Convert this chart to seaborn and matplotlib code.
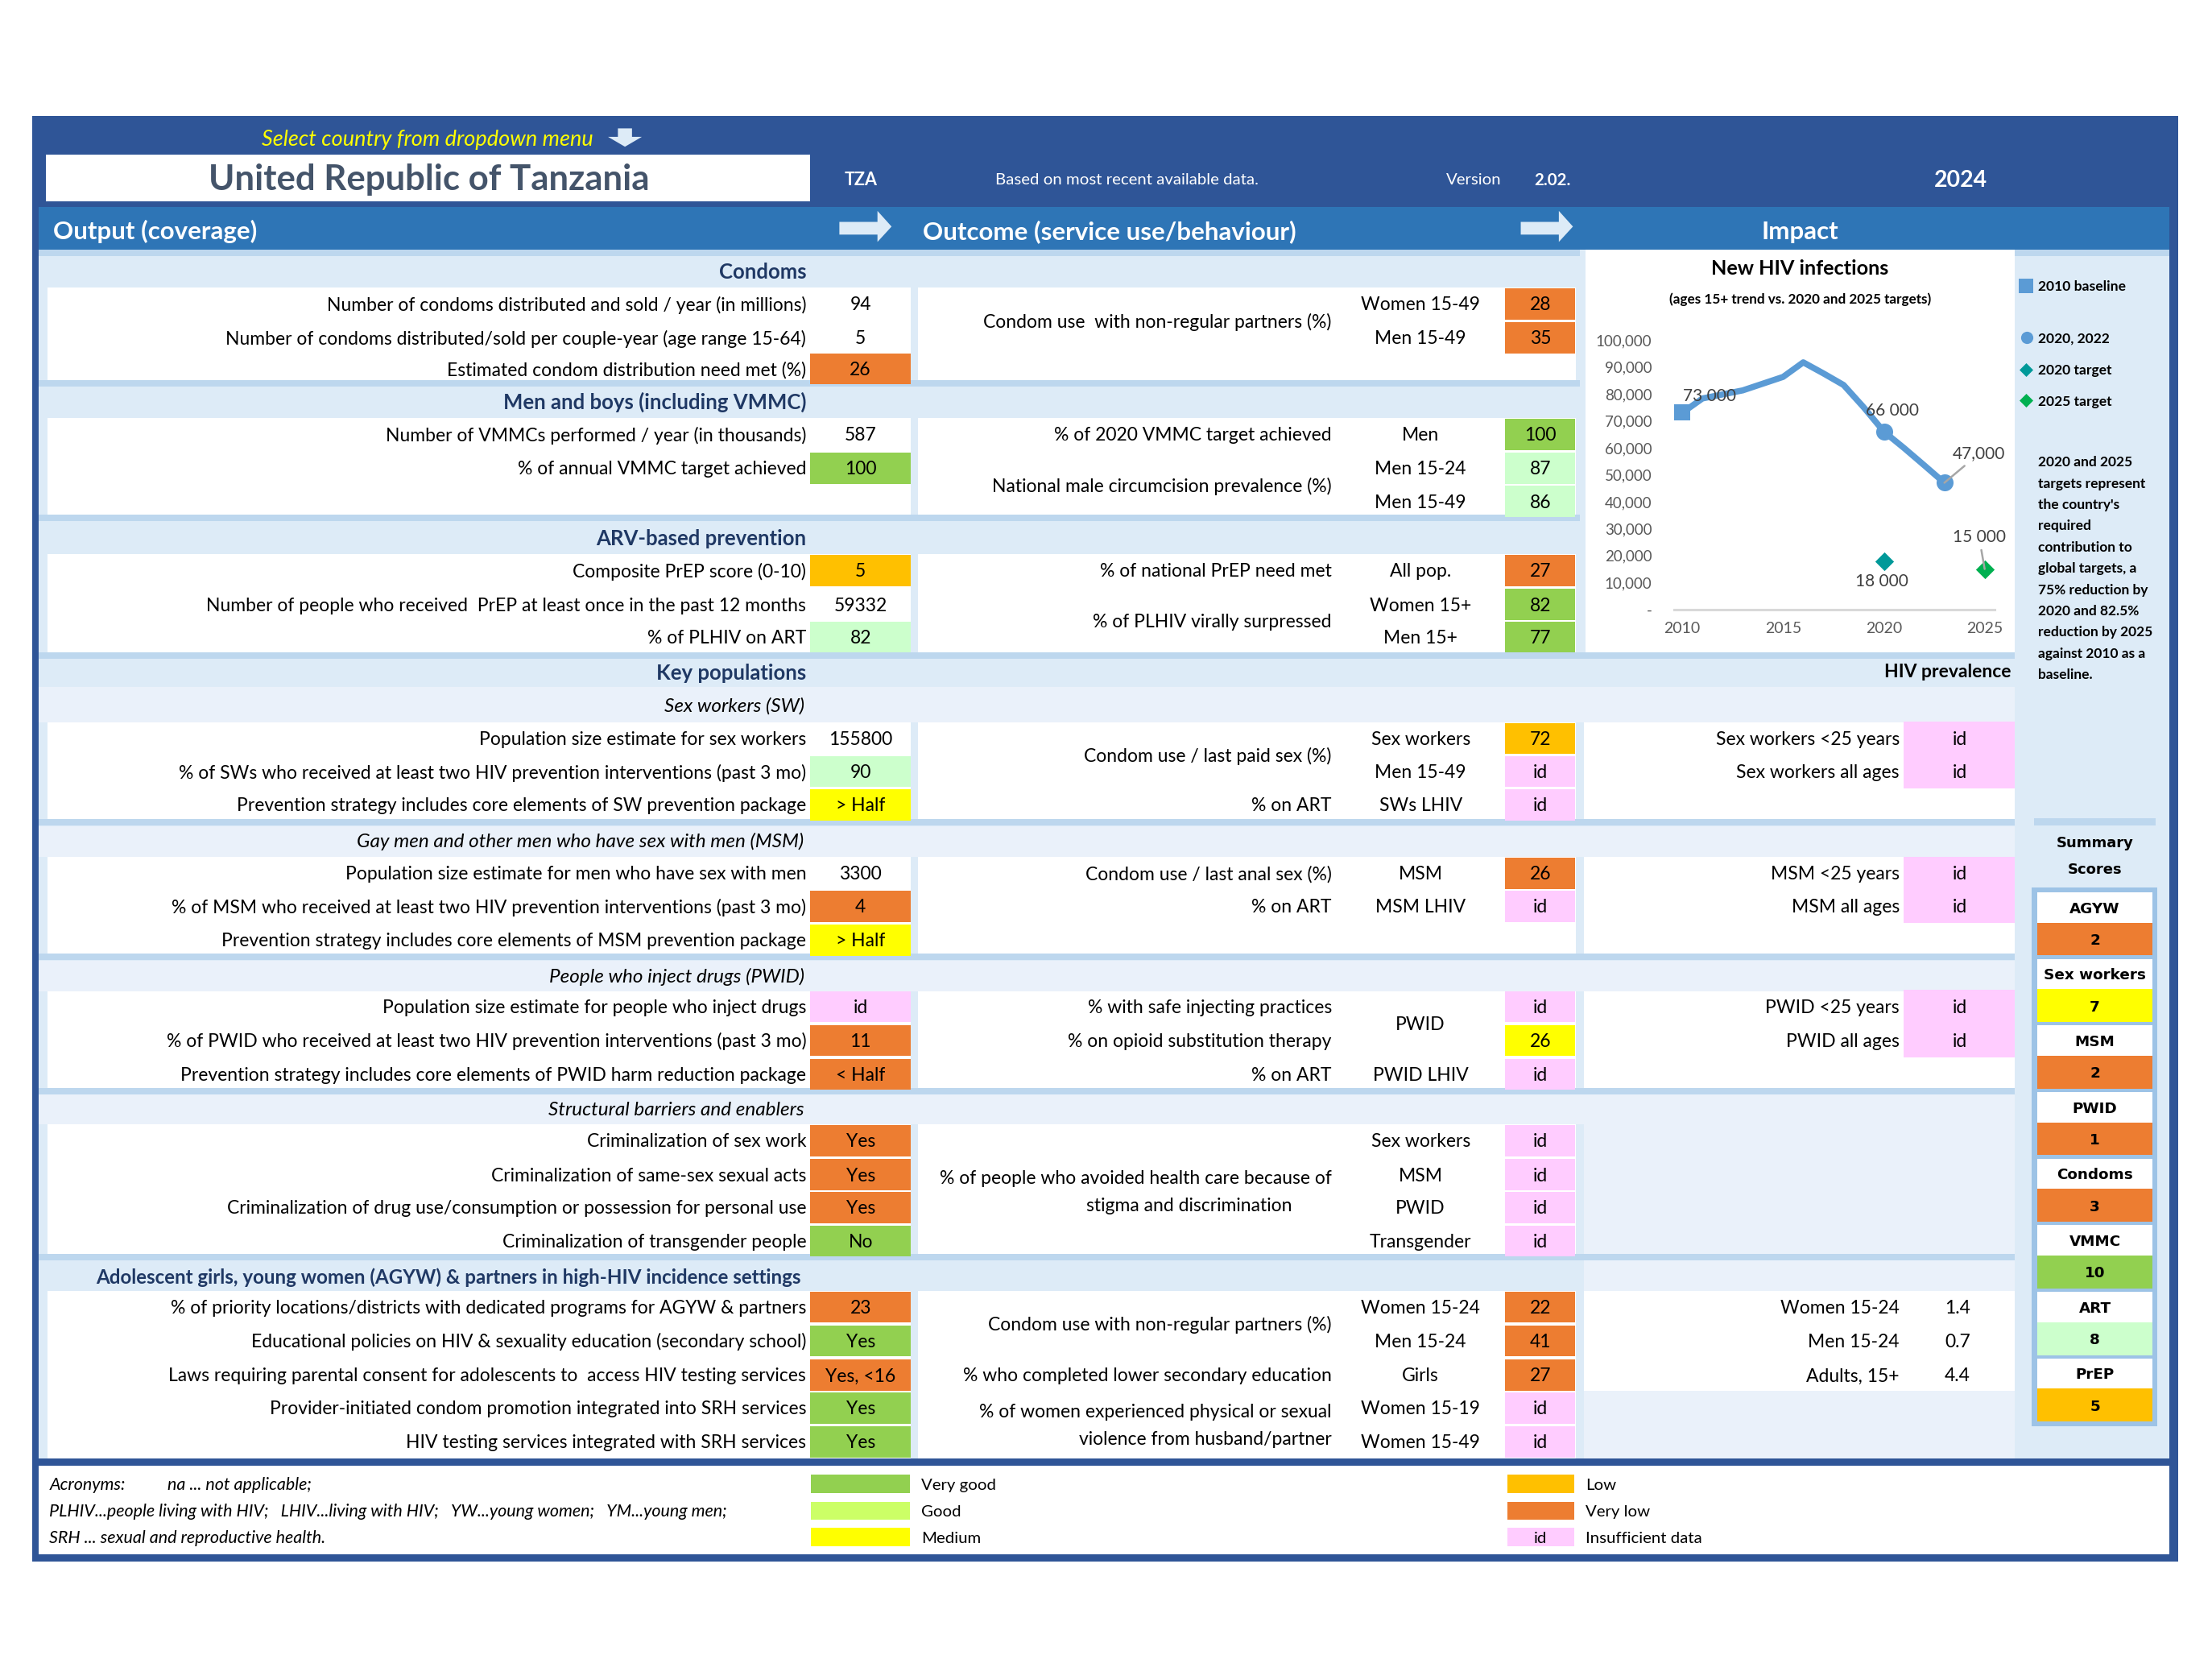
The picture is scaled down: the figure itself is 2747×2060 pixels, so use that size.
#!/usr/bin/env python3
"""
HIV prevention scorecard - United Republic of Tanzania.
One page layout (output / outcome / impact) drawn with matplotlib,
the new infections trend panel drawn with seaborn.
"""

import matplotlib
matplotlib.use("Agg")
import matplotlib.pyplot as plt
from matplotlib.patches import Rectangle, Polygon
import seaborn as sns
import pandas as pd

# ---------------------------------------------------------------- data
country = "United Republic of Tanzania"
iso_code = "TZA"
data_note = "Based on most recent available data."
version = "2.02."
report_year = "2024"

section_titles = ["Condoms", "Men and boys (including VMMC)", "ARV-based prevention",
                  "Key populations",
                  "Adolescent girls, young women (AGYW) & partners in high-HIV incidence settings"]
subsection_titles = ["Sex workers (SW)", "Gay men and other men who have sex with men (MSM)",
                     "People who inject drugs (PWID)", "Structural barriers and enablers"]

output_labels = [
    "Number of condoms distributed and sold / year (in millions)",
    "Number of condoms distributed/sold per couple-year (age range 15-64)",
    "Estimated condom distribution need met (%)",
    "Number of VMMCs performed / year (in thousands)",
    "% of annual VMMC target achieved",
    "",
    "Composite PrEP score (0-10)",
    "Number of people who received  PrEP at least once in the past 12 months",
    "% of PLHIV on ART",
    "Population size estimate for sex workers",
    "% of SWs who received at least two HIV prevention interventions (past 3 mo)",
    "Prevention strategy includes core elements of SW prevention package",
    "Population size estimate for men who have sex with men",
    "% of MSM who received at least two HIV prevention interventions (past 3 mo)",
    "Prevention strategy includes core elements of MSM prevention package",
    "Population size estimate for people who inject drugs",
    "% of PWID who received at least two HIV prevention interventions (past 3 mo)",
    "Prevention strategy includes core elements of PWID harm reduction package",
    "Criminalization of sex work",
    "Criminalization of same-sex sexual acts",
    "Criminalization of drug use/consumption or possession for personal use",
    "Criminalization of transgender people",
    "% of priority locations/districts with dedicated programs for AGYW & partners",
    "Educational policies on HIV & sexuality education (secondary school)",
    "Laws requiring parental consent for adolescents to  access HIV testing services",
    "Provider-initiated condom promotion integrated into SRH services",
    "HIV testing services integrated with SRH services",
]
output_values = ["94", "5", "26", "587", "100", "", "5", "59332", "82",
                 "155800", "90", "> Half", "3300", "4", "> Half", "id", "11", "< Half",
                 "Yes", "Yes", "Yes", "No", "23", "Yes", "Yes, <16", "Yes", "Yes"]
output_ratings = ["", "", "vl", "", "vg", "", "l", "", "g",
                  "", "g", "m", "", "vl", "m", "id", "vl", "vl",
                  "vl", "vl", "vl", "vg", "vl", "vg", "vl", "vg", "vg"]

# (text, first row, last row)
outcome_questions = [
    ("Condom use  with non-regular partners (%)", 0, 1),
    ("% of 2020 VMMC target achieved", 3, 3),
    ("National male circumcision prevalence (%)", 4, 5),
    ("% of national PrEP need met", 6, 6),
    ("% of PLHIV virally surpressed", 7, 8),
    ("Condom use / last paid sex (%)", 9, 10),
    ("% on ART", 11, 11),
    ("Condom use / last anal sex (%)", 12, 12),
    ("% on ART", 13, 13),
    ("% with safe injecting practices", 15, 15),
    ("% on opioid substitution therapy", 16, 16),
    ("% on ART", 17, 17),
    ("% of people who avoided health care because of\nstigma and discrimination", 19, 20),
    ("Condom use with non-regular partners (%)", 22, 23),
    ("% who completed lower secondary education", 24, 24),
    ("% of women experienced physical or sexual\nviolence from husband/partner", 25, 26),
]
outcome_groups = [
    ("Women 15-49", 0, 0), ("Men 15-49", 1, 1), ("Men", 3, 3), ("Men 15-24", 4, 4),
    ("Men 15-49", 5, 5), ("All pop.", 6, 6), ("Women 15+", 7, 7), ("Men 15+", 8, 8),
    ("Sex workers", 9, 9), ("Men 15-49", 10, 10), ("SWs LHIV", 11, 11), ("MSM", 12, 12),
    ("MSM LHIV", 13, 13), ("PWID", 15, 16), ("PWID LHIV", 17, 17), ("Sex workers", 18, 18),
    ("MSM", 19, 19), ("PWID", 20, 20), ("Transgender", 21, 21), ("Women 15-24", 22, 22),
    ("Men 15-24", 23, 23), ("Girls", 24, 24), ("Women 15-19", 25, 25), ("Women 15-49", 26, 26),
]
outcome_values = ["28", "35", "", "100", "87", "86", "27", "82", "77",
                  "72", "id", "id", "26", "id", "", "id", "26", "id",
                  "id", "id", "id", "id", "22", "41", "27", "id", "id"]
outcome_ratings = ["vl", "vl", "", "vg", "g", "g", "vl", "vg", "vg",
                   "l", "id", "id", "vl", "id", "", "id", "m", "id",
                   "id", "id", "id", "id", "vl", "vl", "vl", "id", "id"]

prevalence_labels = ["Sex workers <25 years", "Sex workers all ages", "MSM <25 years",
                     "MSM all ages", "PWID <25 years", "PWID all ages"]
prevalence_rows = [9, 10, 12, 13, 15, 16]
prevalence_values = ["id", "id", "id", "id", "id", "id"]

agyw_prev_labels = ["Women 15-24", "Men 15-24", "Adults, 15+"]
agyw_prev_rows = [22, 23, 24]
agyw_prev_values = ["1.4", "0.7", "4.4"]

# new HIV infections, ages 15+
trend_years = [2010, 2011, 2012, 2013, 2014, 2015, 2016, 2017, 2018, 2019, 2020, 2021, 2022, 2023]
trend_infections = [73000, 78300, 79800, 81300, 83800, 86300, 91700, 87600, 83300, 75000,
                    66000, 59900, 53500, 47000]
baseline_years = [2010]
baseline_values = [73000]
recent_years = [2020, 2023]
recent_values = [66000, 47000]
target20_years = [2020]
target20_values = [18000]
target25_years = [2025]
target25_values = [15000]
point_labels = ["73 000", "66 000", "47,000", "18 000", "15 000"]

chart_legend = ["2010 baseline", "2020, 2022", "2020 target", "2025 target"]
chart_note = ["2020 and 2025", "targets represent", "the country's", "required",
              "contribution to", "global targets, a", "75% reduction by", "2020 and 82.5%",
              "reduction by 2025", "against 2010 as a", "baseline."]

summary_names = ["AGYW", "Sex workers", "MSM", "PWID", "Condoms", "VMMC", "ART", "PrEP"]
summary_scores = ["2", "7", "2", "1", "3", "10", "8", "5"]
summary_ratings = ["vl", "m", "vl", "vl", "vl", "vg", "g", "l"]

key_names = ["Very good", "Good", "Medium", "Low", "Very low", "Insufficient data"]
key_colors = ["#92D050", "#CCFF66", "#FFFF00", "#FFC000", "#ED7D31", "#FFCCFF"]
acronym_lines = ["PLHIV...people living with HIV;   LHIV...living with HIV;   YW...young women;   YM...young men;",
                 "SRH ... sexual and reproductive health."]

# ---------------------------------------------------------------- style
DARK = "#2F5597"
BAND = "#2E75B6"
BG = "#DDEBF7"
LIGHT = "#EAF1FA"
SEP = "#BDD7EE"
NAVY = "#1F3864"
LINE = "#5B9BD5"
RATING_COLORS = {"vg": "#92D050", "g": "#CCFFCC", "m": "#FFFF00", "l": "#FFC000",
                 "vl": "#ED7D31", "id": "#FFCCFF"}

BODY = 16.5
W, H = 1568, 1176   # working units (reference pixels)

# layout (working units)
ROW_Y = [215.5, 239.5, 261.5, 308, 332, 355.5, 404.5, 428.5, 451.5,
         523.5, 547, 570.5, 619, 642.5, 666.5, 713.5, 737.5, 761.5,
         808.5, 832.7, 856, 879.7, 926.5, 950.5, 974.8, 998.2, 1022]
CELL_H = 22
SEPS = [177, 269.5, 365, 462.3, 580.5, 676, 771, 888.7]
SUB_BANDS = [(487, 512), (585.6, 607.5), (681, 702.8), (775.5, 797)]
WHITES = [(203.7, 269.5), (296, 365), (392.7, 462.3), (512, 580.5), (607.5, 676),
          (702.8, 771), (797, 888.7), (915, 1034)]
SECTION_Y = [192.4, 284.5, 381, 476.5, 904.5]
SECTION_SIZE = [18.5, 18.5, 18.5, 18.5, 17.4]
SECTION_RIGHT = [571.5, 571.5, 571.5, 571.5, 568]
SUB_Y = [499.5, 596, 691.5, 786]
DY = 0.8   # small downward nudge of text centres


def rect(ax, x0, y0, x1, y1, color, z=1):
    ax.add_patch(Rectangle((x0, y0), x1 - x0, y1 - y0, facecolor=color,
                           edgecolor="none", lw=0, zorder=z))


def txt(ax, x, y, s, size=BODY, ha="left", color="black", weight="normal",
        style="normal", family=None, z=6):
    kw = {}
    if family:
        kw["family"] = family
    ax.text(x, y + DY, s, fontsize=size, ha=ha, va="center", color=color,
            fontweight=weight, fontstyle=style, zorder=z, **kw)


def mid(a, b):
    return (ROW_Y[a] + ROW_Y[b]) / 2


def draw_frame(ax):
    """Cadre bleu, bandeau et fond."""
    rect(ax, 23, 82, 1544, 1107, DARK, 0)
    rect(ax, 27.5, 146.6, 1538, 177, BAND)
    rect(ax, 27.5, 177, 1538, 1034, BG)
    rect(ax, 27.5, 1039, 1538, 1102, "white")

    # header
    rect(ax, 32.6, 109.6, 574.4, 143, "white", 2)
    txt(ax, 304, 126.5, country, size=31.5, ha="center", color="#44546A", weight="bold")
    txt(ax, 303, 98, "Select country from dropdown menu", size=19.5, ha="center",
        color="#FFFF00", style="italic")
    ax.add_patch(Polygon([(438, 91), (448, 91), (448, 97), (455, 97), (443, 104),
                          (431, 97), (438, 97)], closed=True, facecolor=BG,
                         edgecolor="none", zorder=3))
    txt(ax, 610, 127, iso_code, size=15.5, ha="center", color="white", weight="bold")
    txt(ax, 799, 127, data_note, size=14.7, ha="center", color="white")
    txt(ax, 1045, 127, "Version", size=14.7, ha="center", color="white")
    txt(ax, 1100.5, 127, version, size=14.7, ha="center", color="white", weight="bold")
    txt(ax, 1390, 127, report_year, size=20.5, ha="center", color="white", weight="bold")

    txt(ax, 37.6, 163.5, "Output (coverage)", size=22.5, color="white", weight="bold")
    txt(ax, 654, 163.5, "Outcome (service use/behaviour)", size=22.5, color="white", weight="bold")
    txt(ax, 1276, 163.5, "Impact", size=22.5, ha="center", color="white", weight="bold")
    for x0 in (595, 1078):
        ax.add_patch(Polygon([(x0, 157.3), (x0 + 27, 157.3), (x0 + 27, 149.5),
                              (x0 + 37, 160.6), (x0 + 27, 171.5), (x0 + 27, 166.3),
                              (x0, 166.3)], closed=True, facecolor=BG,
                             edgecolor="none", zorder=3))


def draw_grid(ax):
    """Bandes, séparateurs et blocs blancs."""
    for y0, y1 in SUB_BANDS:
        rect(ax, 27.5, y0, 1428, y1, LIGHT)
    rect(ax, 1123, 771, 1428, 915, LIGHT)
    rect(ax, 1123, 986, 1428, 1034, LIGHT)
    rect(ax, 1428, 177, 1538, 181.5, SEP, 2)
    for i, y in enumerate(SEPS):
        x1 = 1120 if i < 3 else 1428
        rect(ax, 27.5, y, x1, y + 4.6, SEP, 2)
    for i, (y0, y1) in enumerate(WHITES):
        rect(ax, 33.4, y0, 645.5, y1, "white", 3)
        rect(ax, 650.7, y0, 1117, y1, "white", 3)
        if i in (3, 4, 5):
            rect(ax, 1123, y0, 1428, y1, "white", 3)
    rect(ax, 1123, 915, 1428, 986, "white", 3)
    rect(ax, 1124, 177, 1428, 462.3, "white", 3)

    for t, y, sz, xr in zip(section_titles, SECTION_Y, SECTION_SIZE, SECTION_RIGHT):
        txt(ax, xr, y, t, size=sz, ha="right", color=NAVY, weight="bold")
    for t, y in zip(subsection_titles, SUB_Y):
        txt(ax, 570, y, t, size=17.5, ha="right", style="italic")
    txt(ax, 1425.5, 475.5, "HIV prevalence", size=16.5, ha="right", weight="bold")


def draw_rows(ax):
    """Indicateurs output / outcome / impact."""
    for y, lab, val, r in zip(ROW_Y, output_labels, output_values, output_ratings):
        if r:
            rect(ax, 574.5, y - CELL_H / 2, 645.5, y + CELL_H / 2, RATING_COLORS[r], 4)
        txt(ax, 571.5, y, lab, ha="right")
        txt(ax, 610, y, val, ha="center")

    for y, val, r in zip(ROW_Y, outcome_values, outcome_ratings):
        if r:
            rect(ax, 1067, y - CELL_H / 2, 1116.5, y + CELL_H / 2, RATING_COLORS[r], 4)
        txt(ax, 1092, y, val, ha="center")
    for text, a, b in outcome_questions:
        lines = text.split("\n")
        yc = mid(a, b)
        for k, line in enumerate(lines):
            dy = (k - (len(lines) - 1) / 2) * 19.5
            xr = 916 if line.startswith("stigma") else 944
            txt(ax, xr, yc + dy, line, ha="right")
    for text, a, b in outcome_groups:
        txt(ax, 1007, mid(a, b), text, ha="center")

    for lab, row, val in zip(prevalence_labels, prevalence_rows, prevalence_values):
        y = ROW_Y[row]
        rect(ax, 1349.5, y - 11.8, 1428, y + 11.8, RATING_COLORS["id"], 4)
        txt(ax, 1346.5, y, lab, ha="right")
        txt(ax, 1389, y, val, ha="center")
    for lab, row, val in zip(agyw_prev_labels, agyw_prev_rows, agyw_prev_values):
        y = ROW_Y[row]
        txt(ax, 1346.5, y, lab, ha="right")
        txt(ax, 1387.5, y, val, ha="center")


def draw_chart(fig, ax):
    """Courbe des nouvelles infections (seaborn)."""
    txt(ax, 1276, 189.6, "New HIV infections", size=18.2, ha="center", weight="bold")
    txt(ax, 1276, 211.2, "(ages 15+ trend vs. 2020 and 2025 targets)", size=12.3,
        ha="center", weight="bold")

    x0, x1, ytop, ybot = 1186.8, 1414, 241, 432
    ch = fig.add_axes([x0 / W, 1 - ybot / H, (x1 - x0) / W, (ybot - ytop) / H])
    ch.patch.set_alpha(0)
    trend = pd.DataFrame({"year": trend_years, "infections": trend_infections})
    sns.lineplot(data=trend, x="year", y="infections", ax=ch, color=LINE,
                 linewidth=5.5, legend=False, zorder=2)
    sns.scatterplot(x=baseline_years, y=baseline_values, ax=ch, marker="s", s=200,
                    color=LINE, linewidth=0, zorder=4)
    sns.scatterplot(x=recent_years, y=recent_values, ax=ch, marker="o", s=230,
                    color=LINE, linewidth=0, zorder=4)
    sns.scatterplot(x=target20_years, y=target20_values, ax=ch, marker="D", s=140,
                    color="#009999", linewidth=0, zorder=4)
    sns.scatterplot(x=target25_years, y=target25_values, ax=ch, marker="D", s=140,
                    color="#00B050", linewidth=0, zorder=4)

    points = list(zip(baseline_years + recent_years + target20_years + target25_years,
                      baseline_values + recent_values + target20_values + target25_values))
    offsets = [(24, 14.5), (7.5, 19), (31, 26), (-2, -18.5), (-5, 28.5)]
    leaders = [False, False, True, False, True]
    for (xv, yv), lab, off, lead in zip(points, point_labels, offsets, leaders):
        arrow = dict(arrowstyle="-", color="#A6A6A6", lw=1.8, shrinkA=2, shrinkB=0) if lead else None
        ch.annotate(lab, xy=(xv, yv), xytext=off, textcoords="offset points",
                    ha="center", va="center", fontsize=15, color="#404040",
                    arrowprops=arrow, zorder=5)

    ch.set_xlim(2009.6, 2025.5)
    ch.set_ylim(0, 100000)
    ch.set_xticks([2010, 2015, 2020, 2025])
    ch.set_yticks(range(0, 100001, 10000))
    ch.set_yticklabels(["-"] + [f"{v:,}" for v in range(10000, 100001, 10000)])
    ch.tick_params(axis="y", length=0, pad=20, labelsize=13.5, labelcolor="#595959")
    ch.tick_params(axis="x", length=0, pad=11, labelsize=14, labelcolor="#595959")
    ch.set_xlabel("")
    ch.set_ylabel("")
    for side in ("left", "right", "top"):
        ch.spines[side].set_visible(False)
    ch.spines["bottom"].set_color("#D9D9D9")
    ch.spines["bottom"].set_linewidth(2.2)
    ch.grid(False)

    # legend column
    ax.scatter([1436], [202.5], marker="s", s=150, color=LINE, zorder=6, linewidths=0)
    ax.scatter([1436.5], [239], marker="o", s=120, color=LINE, zorder=6, linewidths=0)
    ax.scatter([1436], [262], marker="D", s=75, color="#009999", zorder=6, linewidths=0)
    ax.scatter([1436], [284], marker="D", s=75, color="#00B050", zorder=6, linewidths=0)
    for lab, y in zip(chart_legend, [202.6, 239, 262, 284]):
        txt(ax, 1444.5, y, lab, size=12.6, weight="bold")
    for k, line in enumerate(chart_note):
        txt(ax, 1444.5, 327 + k * 15.07, line, size=12.5, weight="bold")


def draw_summary(ax):
    """Encadré des scores."""
    rect(ax, 1442, 580, 1528, 585, SEP, 2)
    txt(ax, 1485, 597, "Summary", size=13, ha="center", weight="bold", family="DejaVu Sans")
    txt(ax, 1485, 616, "Scores", size=13, ha="center", weight="bold", family="DejaVu Sans")
    rect(ax, 1440, 629, 1529, 1011, "#9DC3E6", 3)
    for k, (name, score, r) in enumerate(zip(summary_names, summary_scores, summary_ratings)):
        t = 632.5 + k * 47.2
        rect(ax, 1444, t, 1526, t + 21.5, "white", 4)
        rect(ax, 1444, t + 21.5, 1526, t + 44.8, RATING_COLORS[r], 4)
        txt(ax, 1485, t + 11, name, size=13.2, ha="center", weight="bold", family="DejaVu Sans")
        txt(ax, 1485, t + 33.5, score, size=13.2, ha="center", weight="bold", family="DejaVu Sans")


def draw_footer(ax):
    """Légende des couleurs et acronymes."""
    ys = [1052, 1071, 1089.6]
    txt(ax, 35, ys[0], "Acronyms:", size=15.5, style="italic")
    txt(ax, 119, ys[0], "na ... not applicable;", size=15.5, style="italic")
    txt(ax, 35, ys[1], acronym_lines[0], size=15.5, style="italic")
    txt(ax, 35, ys[2], acronym_lines[1], size=15.5, style="italic")
    for k, (name, col) in enumerate(zip(key_names, key_colors)):
        y = ys[k % 3]
        xs = 575 if k < 3 else 1068.5
        xe = 645 if k < 3 else 1116
        rect(ax, xs, y - 6.5, xe, y + 6.5, col, 3)
        txt(ax, xe + 8, y, name, size=14.7)
        if name == "Insufficient data":
            txt(ax, (xs + xe) / 2, y, "id", size=14.7, ha="center")


def make_scorecard():
    sns.set_theme(style="white")
    plt.rcParams["font.family"] = ["Lato", "DejaVu Sans"]

    fig = plt.figure(figsize=(27.47, 20.60), dpi=100)
    ax = fig.add_axes([0, 0, 1, 1])
    ax.set_xlim(0, W)
    ax.set_ylim(H, 0)
    ax.axis("off")

    draw_frame(ax)
    draw_grid(ax)
    draw_rows(ax)
    draw_chart(fig, ax)
    draw_summary(ax)
    draw_footer(ax)

    fig.savefig("out.png", dpi=100, facecolor="white")
    plt.close(fig)
    print("Saved: out.png")


if __name__ == "__main__":
    make_scorecard()
